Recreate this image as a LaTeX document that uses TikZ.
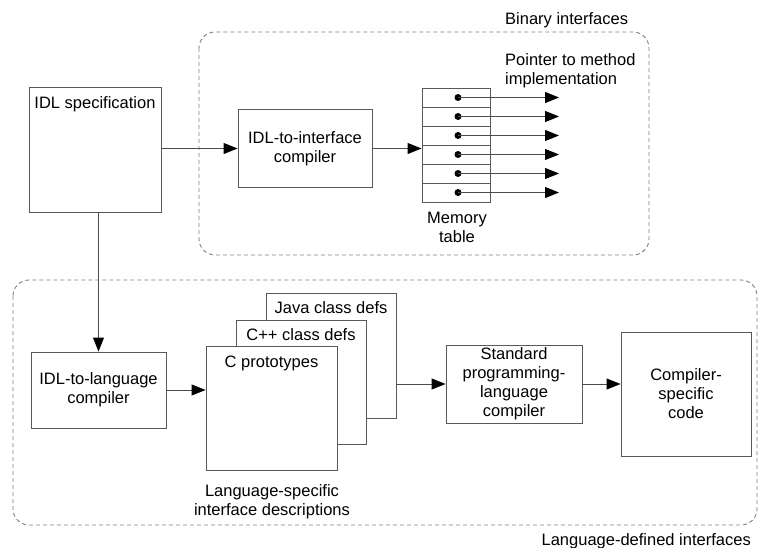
\documentclass[tikz,border=0pt]{standalone}
\usepackage{fontspec}
\setmainfont{Liberation Sans}
\usetikzlibrary{arrows.meta}

\begin{document}
\begin{tikzpicture}[x=1pt,y=-1pt,
	font=\fontsize{16.5}{19}\selectfont,
	box/.style={draw=black!65,line width=0.9pt,fill=white,inner sep=0pt},
	txt/.style={inner sep=0pt,align=center},
	dot/.style={circle,fill=black,inner sep=0pt,minimum size=7pt},
	area/.style={draw=black!50,line width=0.9pt,dash pattern=on 4pt off 3pt,rounded corners=16pt},
	arr/.style={draw=black!70,line width=0.9pt,-{Triangle[length=14pt,width=11pt,color=black]}}]
\useasboundingbox (0,0) rectangle (760,548);
\draw[area] (199,32) rectangle (649,255);
\draw[area] (13,280) rectangle (757,525);
%
\node[box,minimum width=132pt,minimum height=125pt] (spec) at (95,149.5) {};
\node[box,minimum width=134pt,minimum height=78pt,txt] (ifc) at (305,148.5) {IDL-to-interface\\compiler};
\node[box,minimum width=135pt,minimum height=76pt,txt] (lang) at (98.5,390) {IDL-to-language\\compiler};
\node[box,minimum width=130pt,minimum height=125pt] (java) at (331,355.5) {};
\node[box,minimum width=130pt,minimum height=124pt] (cpp) at (301,382) {};
\node[box,minimum width=131pt,minimum height=124pt] (cproto) at (271.5,408) {};
\node[box,minimum width=136pt,minimum height=78pt,txt] (std) at (514,384) {Standard\\programming-\\language\\compiler};
\node[box,minimum width=130pt,minimum height=124pt,txt] (code) at (686,394) {Compiler-\\specific\\code};
%
\node[txt,anchor=north] (spect) at ([yshift=-10pt]spec.north) {IDL specification};
\node[txt,anchor=north] (javat) at ([yshift=-9pt]java.north) {Java class defs};
\node[txt,anchor=north] (cppt) at ([yshift=-9pt]cpp.north) {C++ class defs};
\node[txt,anchor=north] (cprotot) at ([yshift=-10pt]cproto.north) {C prototypes};
%
\foreach \i in {1,...,6} {
	\node[box,minimum width=68pt,minimum height=19pt] (r\i) at (456,78.5+19*\i) {};
	\node[dot] (d\i) at (458,78.5+19*\i) {};
	\coordinate (e\i) at (559,78.5+19*\i);
	\draw[arr] (d\i.center) -- (e\i);
}
%
\node[txt,anchor=west] (binary) at (505,20) {Binary interfaces};
\node[txt,anchor=west,align=left] (pointer) at (505,71) {Pointer to method\\implementation};
\node[txt] (memory) at (457,227.5) {Memory\\table};
\node[txt] (langspec) at (272,502) {Language-specific\\interface descriptions};
\node[txt,anchor=east] (langdef) at (751,541) {Language-defined interfaces};
%
\draw[arr] (spec.east |- ifc.west) -- (ifc.west);
\draw[arr] (ifc.east) -- (ifc.east -| r4.west);
\draw[arr] (spec.south -| lang.north) -- (lang.north);
\draw[arr] (lang.east) -- (lang.east -| cproto.west);
\draw[arr] (std.west -| java.east) -- (std.west);
\draw[arr] (std.east) -- (std.east -| code.west);
\end{tikzpicture}
\end{document}
